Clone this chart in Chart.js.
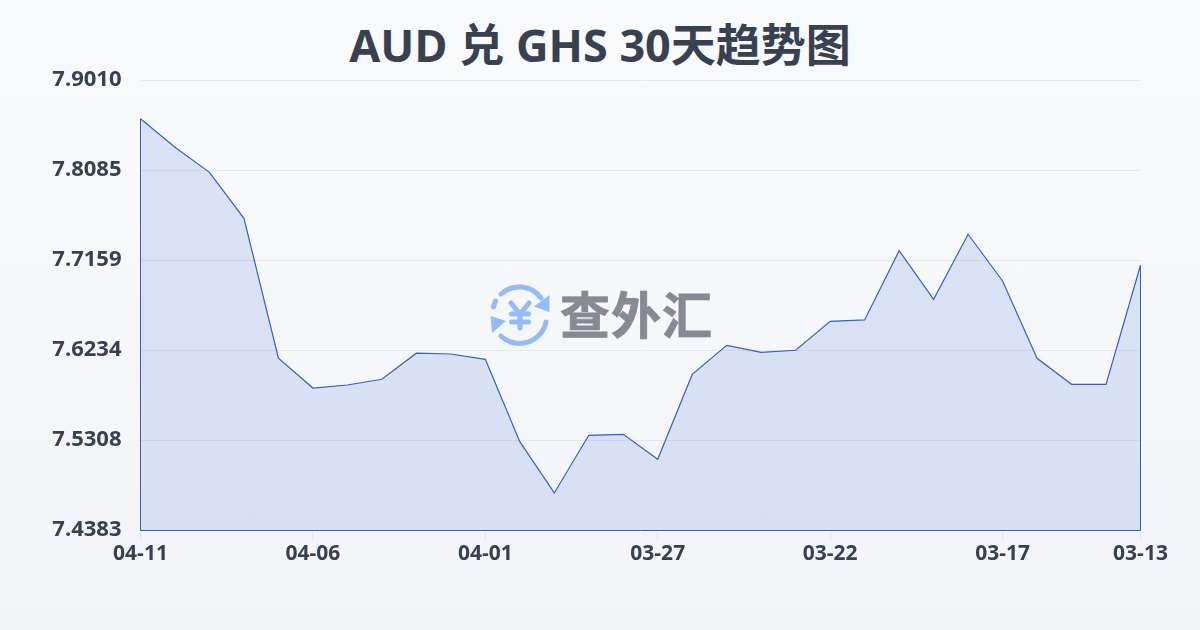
<!DOCTYPE html>
<html lang="zh">
<head>
<meta charset="utf-8">
<script src="https://cdn.jsdelivr.net/npm/chart.js@4"></script>
<style>
html,body{margin:0;padding:0;width:1200px;height:630px;overflow:hidden;background:linear-gradient(180deg,#f8fafc 0%,#f3f4f7 100%);}
#wrap{position:relative;width:1200px;height:630px;}
canvas{position:absolute;left:0;top:0;}
#title{position:absolute;left:0;top:14px;width:1200px;text-align:center;font:700 45px/62px "Open Sans","Noto Sans CJK SC",sans-serif;color:#374151;white-space:nowrap;}
#logo{position:absolute;left:470px;top:270px;}
#brand{position:absolute;left:560px;top:276px;font:700 50px/72px "Noto Sans CJK SC";color:#858a93;white-space:nowrap;letter-spacing:1px;-webkit-text-stroke:0.8px #858a93;}
</style>
</head>
<body>
<div id="wrap">
<div id="title"></div>
<svg id="logo" width="260" height="90" viewBox="0 0 260 90" fill="none">
  <g stroke="#93bbfb" stroke-width="5" stroke-linecap="round">
    <path d="M23.5 37 A27 27 0 0 1 25.5 31"/>
    <path d="M31 24 A27 27 0 0 1 71 28"/>
    <path d="M76 52 A27 27 0 0 1 31 66"/>
    <path d="M41 33 L50 44 L59 33 M41.5 44 H58.5 M41.5 52 H58.5 M50 44 V58"/>
  </g>
  <path d="M79.5 25 V42 L64 36.5 Z M20.5 46 L36 51 L22 63 Z" fill="#93bbfb"/>
</svg>
<div id="brand">查外汇</div>
<canvas id="c" width="1200" height="630"></canvas>
</div>
<script>
const categories = ["04-11","04-10","04-09","04-08","04-07","04-06","04-05","04-04","04-03","04-02","04-01","03-31","03-30","03-29","03-28","03-27","03-26","03-25","03-24","03-23","03-22","03-21","03-20","03-19","03-18","03-17","03-16","03-15","03-14","03-13"];
const rates = [7.8617,7.8323,7.8066,7.7593,7.6154,7.5848,7.5879,7.5938,7.6206,7.6198,7.6143,7.5296,7.4769,7.5362,7.5372,7.5115,7.5988,7.6287,7.6215,7.6236,7.6534,7.6548,7.7260,7.6760,7.7429,7.6949,7.6154,7.5886,7.5886,7.7110];
const xTickLabels = ["04-11","04-06","04-01","03-27","03-22","03-17","03-13"];
const yTickLabels = ["7.4383","7.5308","7.6234","7.7159","7.8085","7.9010"];
const titleText = "AUD 兑 GHS 30天趋势图";

document.getElementById("title").textContent = titleText;

const LATIN = '"Open Sans","Noto Sans CJK SC",sans-serif';
const INK = "#374151";
const LINE = "#2f62c8";

const closeArea = {
  id: "closeArea",
  afterDatasetsDraw(chart) {
    const {ctx, scales:{x, y}} = chart;
    const base = y.getPixelForValue(y.min);
    const x0 = x.getPixelForValue(0), x1 = x.getPixelForValue(rates.length - 1);
    ctx.save();
    ctx.strokeStyle = LINE;
    ctx.lineWidth = 1;
    ctx.beginPath();
    ctx.moveTo(x0, y.getPixelForValue(rates[0]));
    ctx.lineTo(x0, base);
    ctx.lineTo(x1, base);
    ctx.lineTo(x1, y.getPixelForValue(rates[rates.length - 1]));
    ctx.stroke();
    ctx.restore();
  }
};

new Chart(document.getElementById("c"), {
  type: "line",
  data: {
    labels: categories,
    datasets: [{
      data: rates,
      borderColor: LINE,
      borderWidth: 1.2,
      backgroundColor: "rgba(40,100,215,0.14)",
      fill: "start",
      pointRadius: 0,
      tension: 0
    }]
  },
  plugins: [closeArea],
  options: {
    responsive: false,
    animation: false,
    devicePixelRatio: 1,
    layout: { padding: { left: 0, right: 59.5, top: 80.5, bottom: 0 } },
    plugins: {
      legend: { display: false },
      tooltip: { enabled: false },
      title: { display: false }
    },
    scales: {
      x: {
        type: "category",
        offset: false,
        grid: { drawOnChartArea: false, drawTicks: true, tickLength: 10, color: "#e5e7eb" },
        border: { display: false },
        afterBuildTicks(s) { s.ticks = s.ticks.filter(t => xTickLabels.includes(categories[t.value])); },
        afterFit(s) { s.height = 99.5; },
        ticks: {
          autoSkip: false, maxRotation: 0, minRotation: 0, padding: 1,
          color: INK, font: { family: LATIN, size: 21, weight: "700" }
        }
      },
      y: {
        min: Number(yTickLabels[0]),
        max: Number(yTickLabels[yTickLabels.length - 1]),
        grid: { drawTicks: false, color: "#e5e7eb", lineWidth: 1 },
        border: { display: false },
        afterBuildTicks(s) { s.ticks = yTickLabels.map(v => ({ value: Number(v) })); },
        afterFit(s) { s.width = 140.5; },
        ticks: {
          padding: 19, labelOffset: -1,
          callback: v => v.toFixed(4),
          color: INK, font: { family: LATIN, size: 22, weight: "700" }
        }
      }
    }
  }
});
</script>
</body>
</html>
